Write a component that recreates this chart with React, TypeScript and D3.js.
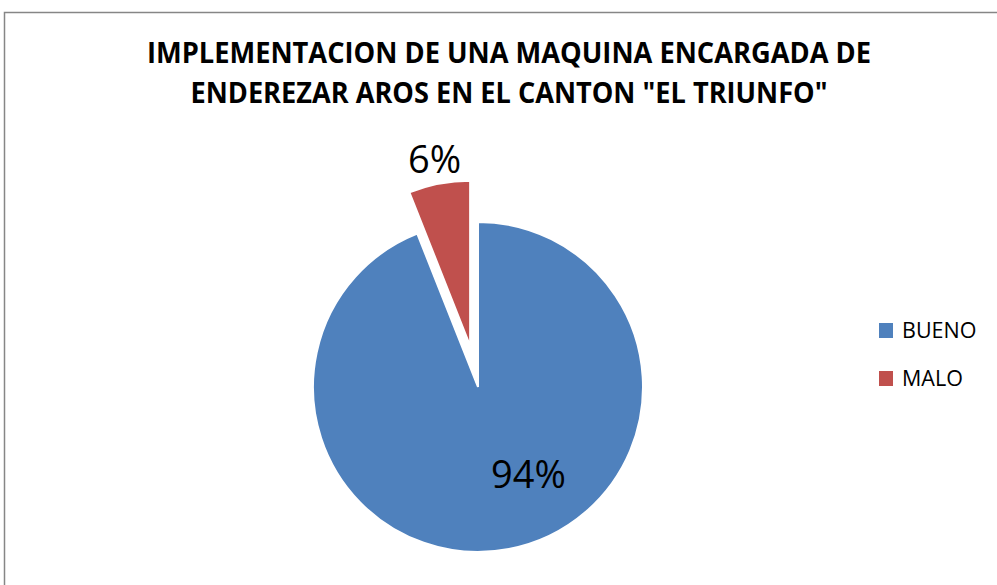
import React from "react";
import * as d3 from "d3";

const categories = ["BUENO", "MALO"];
const values = [94, 6];
const colors = ["#4F81BD", "#C0504D"];
const titleLines = ["IMPLEMENTACION DE UNA MAQUINA ENCARGADA DE", "ENDEREZAR AROS EN EL CANTON \"EL TRIUNFO\""];
const exploded = [false, true];

const W = 997;
const H = 585;
const FONT = "'Open Sans', 'Noto Sans', sans-serif";

export default function App() {
  const cx = 478;
  const cy = 387;
  const r = 165;
  const explodeDist = 42;
  const total = d3.sum(values);

  const pie = d3.pie<number>().sort(null).value((d) => d);
  const arcs = pie(values);
  const arcGen = d3.arc<d3.PieArcDatum<number>>().innerRadius(0).outerRadius(r);

  const dir = (a: number) => [Math.sin(a), -Math.cos(a)];

  return (
    <svg width={W} height={H} style={{ position: "absolute", left: 0, top: 0 }}>
      <rect x={0} y={0} width={W} height={H} fill="#fff" />
      <rect x={4.5} y={12.5} width={1100} height={700} fill="#fff" stroke="#868686" strokeWidth={1.5} />
      {titleLines.map((t, i) => (
        <text
          key={i}
          x={509}
          y={63 + i * 40}
          textAnchor="middle"
          fontFamily={FONT}
          fontWeight="bold"
          fontSize={28}
          fill="#000"
          textLength={i === 0 ? 724 : 637}
          lengthAdjust="spacingAndGlyphs"
        >
          {t}
        </text>
      ))}
      <g>
        {arcs.map((a, i) => {
          const mid = (a.startAngle + a.endAngle) / 2;
          const [dx, dy] = dir(mid);
          const off = exploded[i] ? explodeDist : 0;
          return (
            <path
              key={i}
              d={arcGen(a) || ""}
              transform={`translate(${cx + dx * off},${cy + dy * off})`}
              fill={colors[i]}
              stroke="#fff"
              strokeWidth={2}
            />
          );
        })}
        {arcs.map((a, i) => {
          const pct = Math.round((values[i] / total) * 100) + "%";
          let lx: number, ly: number;
          if (exploded[i]) {
            const mid = (a.startAngle + a.endAngle) / 2;
            const [dx, dy] = dir(mid);
            lx = cx + dx * (explodeDist + r + 25);
            ly = cy + dy * (explodeDist + r + 25);
          } else {
            const ang = a.startAngle + (a.endAngle - a.startAngle) * 0.443;
            const [dx, dy] = dir(ang);
            lx = cx + dx * r * 0.61;
            ly = cy + dy * r * 0.61;
          }
          return (
            <text
              key={"l" + i}
              x={lx}
              y={ly}
              dy="0.36em"
              textAnchor="middle"
              fontFamily={FONT}
              fontSize={38}
              fill="#000"
            >
              {pct}
            </text>
          );
        })}
      </g>
      {categories.map((c, i) => (
        <g key={c} transform={`translate(879,${323 + i * 48})`}>
          <rect x={0} y={0} width={14} height={15} fill={colors[i]} />
          <text x={23} y={15} fontFamily={FONT} fontSize={21.5} fill="#000">
            {c}
          </text>
        </g>
      ))}
    </svg>
  );
}
